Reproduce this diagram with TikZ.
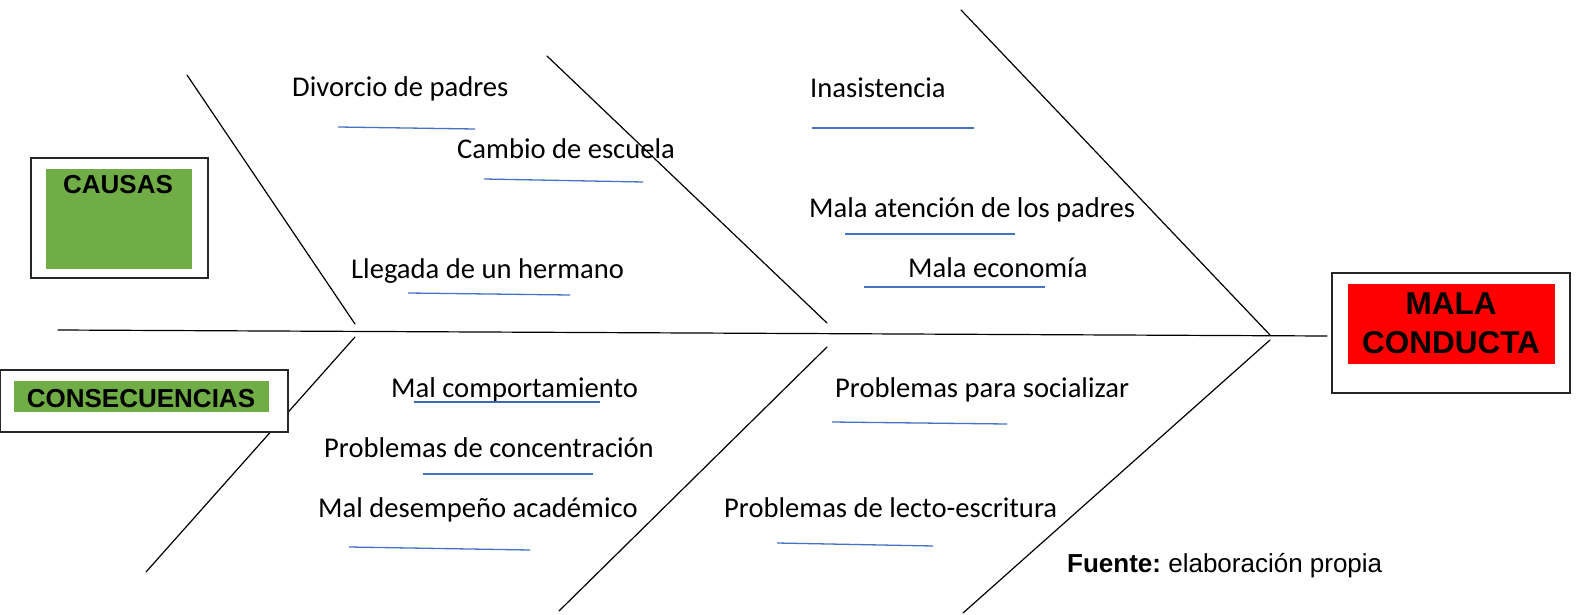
\documentclass[tikz,border=0pt]{standalone}
\usepackage{fontspec}
\setmainfont{Carlito}
\newfontfamily\arialf{Liberation Sans}
\definecolor{xgreen}{HTML}{70AD47}
\definecolor{xblue}{HTML}{4472C4}
\definecolor{xred}{HTML}{FF0000}
\begin{document}
\begin{tikzpicture}[x=1pt,y=-1pt,
  bone/.style={line width=1.2pt, black, line cap=round},
  uline/.style={line width=1.3pt, xblue},
  uthick/.style={line width=2.6pt, xblue!90!black},
  lbl/.style={anchor=base west, inner sep=0pt, font=\fontsize{28.6}{34}\selectfont},
  frame/.style={draw=black!85, line width=1.5pt, fill=white, inner sep=0pt},
  panel/.style={inner sep=0pt, draw=none},
  title/.style={anchor=base, inner sep=0pt, font=\arialf\bfseries\fontsize{26}{30}\selectfont},
  bigtitle/.style={anchor=base, inner sep=0pt, font=\arialf\bfseries\fontsize{31.5}{36}\selectfont}
]
\useasboundingbox (0,0) rectangle (1578,615);

% coordinates of the skeleton
\coordinate (spineL) at (58,330);
\coordinate (spineR) at (1327,336);
\coordinate (t1a) at (187,75);   \coordinate (t1b) at (355,324);
\coordinate (t2a) at (547,56);   \coordinate (t2b) at (827,323);
\coordinate (t3a) at (961,10);   \coordinate (t3b) at (1270,335);
\coordinate (b1a) at (355,337);  \coordinate (b1b) at (146,572);
\coordinate (b2a) at (827,347);  \coordinate (b2b) at (559,611);
\coordinate (b3a) at (1270,340); \coordinate (b3b) at (963,613);

\draw[bone] (spineL) -- (spineR);
\draw[bone] (t1a) -- (t1b);
\draw[bone] (t2a) -- (t2b);
\draw[bone] (t3a) -- (t3b);
\draw[bone] (b1a) -- (b1b);
\draw[bone] (b2a) -- (b2b);
\draw[bone] (b3a) -- (b3b);

% boxes
\node[frame, minimum width=177pt, minimum height=120pt] (causasframe) at (119.5,218) {};
\node[panel, fill=xgreen, minimum width=146pt, minimum height=100pt] (causaspanel) at (119,219) {};
\node[title] (causas) at (118,193) {CAUSAS};

\node[frame, minimum width=288pt, minimum height=62pt] (consframe) at (144,401) {};
\node[panel, fill=xgreen, minimum width=255pt, minimum height=31pt] (conspanel) at (141.5,396.5) {};
\node[title] (cons) at (141,407) {CONSECUENCIAS};

\node[frame, minimum width=238pt, minimum height=120pt] (malaframe) at (1451,333) {};
\node[panel, fill=xred, minimum width=207pt, minimum height=80pt] (malapanel) at (1451.5,324) {};
\node[bigtitle] (mala1) at (1451,314) {MALA};
\node[bigtitle] (mala2) at (1451,353) {CONDUCTA};

% labels
\node[lbl] (divorcio) at (292,97) {Divorcio de padres};
\draw[uline] (338,127) -- (475,129);
\node[lbl] (cambio) at (457,158) {Cambio de escuela};
\draw[uline] (484,179) -- (643,182);
\node[lbl] (llegada) at (351,278) {Llegada de un hermano};
\draw[uline] (408,293) -- (570,295);

\node[lbl] (inasist) at (810,98) {Inasistencia};
\draw[uline] (812,128) -- (974,128);
\node[lbl] (atencion) at (809,217) {Mala atención de los padres};
\draw[uline] (845,234) -- (1015,234);
\node[lbl] (economia) at (908,277) {Mala economía};
\draw[uline] (864,287) -- (1045,287);

\node[lbl] (comport) at (391,397) {Mal comportamiento};
\draw[uthick] (414,402) -- (600,402);
\node[lbl] (concentr) at (324,457) {Problemas de concentración};
\draw[uline] (423,474) -- (593,474);
\node[lbl] (desemp) at (318,517) {Mal desempeño académico};
\draw[uline] (349,547) -- (530,550);

\node[lbl] (socializ) at (835,397) {Problemas para socializar};
\draw[uline] (832,422) -- (1007,424);
\node[lbl] (lecto) at (724,517) {Problemas de lecto-escritura};
\draw[uline] (777,543) -- (933,546);

\node[anchor=base west, inner sep=0pt, font=\arialf\fontsize{26}{30}\selectfont] (fuente) at (1067,572) {\textbf{Fuente:}\ elaboración propia};
\end{tikzpicture}
\end{document}
